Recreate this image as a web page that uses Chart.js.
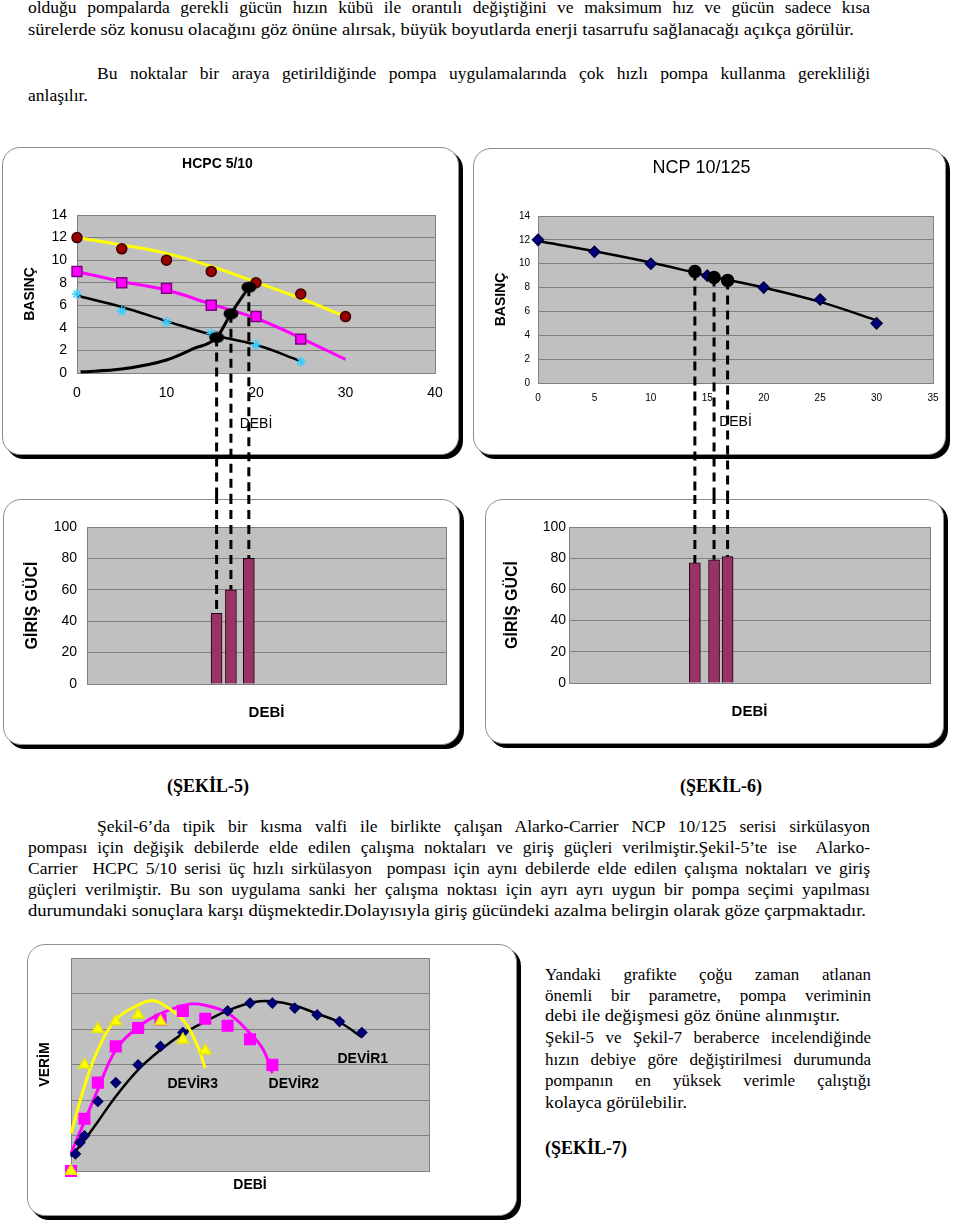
<!DOCTYPE html>
<html lang="tr">
<head>
<meta charset="utf-8">
<title>Pompa grafikleri – Şekil 5, 6, 7</title>
<script src="https://cdn.jsdelivr.net/npm/chart.js@4.4.1/dist/chart.umd.min.js"></script>
<style>
  html, body { margin: 0; padding: 0; background: #fff; }
  body { position: relative; width: 960px; height: 1223px; overflow: hidden; }
  .frame { position: absolute; background: #fff; border: 1px solid #8c8c8c; border-radius: 18px; box-shadow: 4px 4px 0 #000; z-index: 0; }
  canvas { position: absolute; z-index: 1; }
  .ln { position: absolute; white-space: nowrap; font-family: 'Liberation Serif', 'Times New Roman', serif; font-size: 17.5px; line-height: 20px; color: #000; transform-origin: 0 0; z-index: 2; }
  .ln.r { font-size: 17px; }
  .ln.fig { font-weight: bold; font-size: 18px; line-height: 22px; }
</style>
</head>
<body>

<!-- Metin: üst paragraflar -->
<div class="ln" style="left:28px;top:-3px" data-w="842" data-j="1">olduğu pompalarda gerekli gücün hızın kübü ile orantılı değiştiğini ve maksimum hız ve gücün sadece kısa</div>
<div class="ln" style="left:28px;top:19px" data-w="826">sürelerde söz konusu olacağını göz önüne alırsak, büyük boyutlarda enerji tasarrufu sağlanacağı açıkça görülür.</div>
<div class="ln" style="left:97px;top:63px" data-w="773" data-j="1">Bu noktalar bir araya getirildiğinde pompa uygulamalarında çok hızlı pompa kullanma gerekliliği</div>
<div class="ln" style="left:28px;top:85px">anlaşılır.</div>

<!-- Grafik çerçeveleri -->
<div class="frame" style="left:2px;top:147px;width:455px;height:306px"></div>
<div class="frame" style="left:473px;top:148px;width:471px;height:305px"></div>
<div class="frame" style="left:3px;top:499px;width:455px;height:244px"></div>
<div class="frame" style="left:485px;top:499px;width:457px;height:243px"></div>
<div class="frame" style="left:27px;top:944px;width:488px;height:270px"></div>

<canvas id="hcpcChart" width="462" height="348" style="left:0;top:147px"></canvas>
<canvas id="ncpChart" width="480" height="348" style="left:470px;top:147px"></canvas>
<canvas id="hcpcPowerChart" width="465" height="255" style="left:0;top:495px"></canvas>
<canvas id="ncpPowerChart" width="470" height="255" style="left:480px;top:495px"></canvas>
<canvas id="verimChart" width="495" height="275" style="left:27px;top:944px"></canvas>

<!-- Şekil başlıkları ve orta paragraf -->
<div class="ln fig" style="left:167px;top:775px">(ŞEKİL-5)</div>
<div class="ln fig" style="left:680px;top:775px">(ŞEKİL-6)</div>

<div class="ln" style="left:97px;top:816px" data-w="773" data-j="1">Şekil-6’da tipik bir kısma valfi ile birlikte çalışan Alarko-Carrier NCP 10/125 serisi sirkülasyon</div>
<div class="ln" style="left:28px;top:837px" data-w="842" data-j="1">pompası için değişik debilerde elde edilen çalışma noktaları ve giriş güçleri verilmiştir.Şekil-5’te ise&nbsp; Alarko-</div>
<div class="ln" style="left:28px;top:858px" data-w="842" data-j="1">Carrier&nbsp; HCPC 5/10 serisi üç hızlı sirkülasyon&nbsp; pompası için aynı debilerde elde edilen çalışma noktaları ve giriş</div>
<div class="ln" style="left:28px;top:879px" data-w="842" data-j="1">güçleri verilmiştir. Bu son uygulama sanki her çalışma noktası için ayrı ayrı uygun bir pompa seçimi yapılması</div>
<div class="ln" style="left:28px;top:900px" data-w="838">durumundaki sonuçlara karşı düşmektedir.Dolayısıyla giriş gücündeki azalma belirgin olarak göze çarpmaktadır.</div>

<!-- Sağ paragraf -->
<div class="ln r" style="left:545px;top:965px" data-w="326" data-j="1">Yandaki grafikte çoğu zaman atlanan</div>
<div class="ln r" style="left:545px;top:986px" data-w="326" data-j="1">önemli bir parametre, pompa veriminin</div>
<div class="ln r" style="left:545px;top:1006px" data-w="295">debi ile değişmesi göz önüne alınmıştır.</div>
<div class="ln r" style="left:545px;top:1028px" data-w="326" data-j="1">Şekil-5 ve Şekil-7 beraberce incelendiğinde</div>
<div class="ln r" style="left:545px;top:1050px" data-w="326" data-j="1">hızın debiye göre değiştirilmesi durumunda</div>
<div class="ln r" style="left:545px;top:1071px" data-w="326" data-j="1">pompanın en yüksek verimle çalıştığı</div>
<div class="ln r" style="left:545px;top:1093px" data-w="142">kolayca görülebilir.</div>
<div class="ln fig" style="left:545px;top:1137px">(ŞEKİL-7)</div>

<script>
// ---- Şekil-5: HCPC 5/10 (üç hızlı pompa) ----
const hcpcFlow = [0, 5, 10, 15, 20, 25, 30];
const hcpcSpeed3 = [12, 11, 10, 9, 8, 7, 5];
const hcpcSpeed2 = [9, 8, 7.5, 6, 5, 3];
const hcpcSpeed1 = [7, 5.5, 4.5, 3.5, 2.5, 1];
const hcpcTrend3 = [12.0, 11.35, 10.6, 9.45, 8.05, 6.6, 5.0];
const hcpcTrend2 = [9.0, 8.1, 7.35, 6.1, 4.85, 3.1, 1.2];
const hcpcTrend1 = [6.85, 5.85, 4.6, 3.4, 2.5, 1.05];
const systemFlow = [0.4, 5, 10, 13, 15.6, 17.2, 19.2];
const systemHead = [0.1, 0.35, 1.15, 2.15, 3.15, 5.25, 7.6];
const hcpcOpFlow = [15.6, 17.2, 19.2];
const hcpcOpHead = [3.15, 5.25, 7.6];
const hcpcPower = [45, 60, 80];

// ---- Şekil-6: NCP 10/125 (kısma valfli) ----
const ncpFlow = [0, 5, 10, 15, 20, 25, 30];
const ncpHead = [12, 11, 10, 9, 8, 7, 5];
const ncpTrend = [11.9, 11.05, 10.1, 9.0, 8.0, 6.8, 5.25];
const ncpOpFlow = [13.9, 15.6, 16.8];
const ncpOpHead = [9.35, 8.85, 8.6];
const ncpPower = [77, 79, 81];

// ---- Şekil-7: verim - debi ----
const devir1Flow = [0.5, 1, 1.5, 3, 5, 7.5, 10, 12.5, 17.5, 20, 22.5, 25, 27.5, 30, 32.5];
const devir1Eff = [4.8, 8, 9.9, 19.6, 24.9, 29.9, 35.1, 39, 45.1, 47.3, 47.3, 45.9, 44, 42.1, 39];
const devir2Flow = [0, 1.5, 3, 5, 7.5, 10, 12.5, 15, 17.5, 20, 22.5];
const devir2Eff = [0, 14.7, 24.9, 35.1, 40.3, 42.6, 45.1, 42.9, 40.9, 37.1, 29.9];
const devir3Flow = [0, 1.5, 3, 5, 7.5, 10, 12.5, 15];
const devir3Eff = [0, 29.9, 40, 42.1, 44, 42.1, 37, 33.9];
const devir1CurveFlow = [0, 1.5, 3, 5, 7.5, 10, 12.5, 15, 17.5, 20.5, 22.5, 25, 27.5, 30, 32.5];
const devir1CurveEff = [4, 8.7, 13.9, 21, 28.5, 34.1, 38.7, 42.1, 45.2, 47.6, 47.8, 46.6, 44.3, 41.9, 37.7];
const devir2CurveFlow = [0, 1.5, 3, 5, 7.5, 10, 13.2, 15, 17.5, 20, 21.5, 22.5];
const devir2CurveEff = [5, 13.9, 22.9, 34.1, 40.5, 44.3, 47, 46.7, 44.5, 38.8, 34.1, 27.6];
const devir3CurveFlow = [0, 1.5, 3, 5, 7.5, 9, 10, 12.5, 14, 15];
const devir3CurveEff = [10.6, 23.8, 34.1, 42.6, 46.8, 48, 47.3, 42.6, 36, 29];

// ---- Eksen etiketleri ----
const basincTicks = [0, 2, 4, 6, 8, 10, 12, 14];
const hcpcDebiTicks = [0, 10, 20, 30, 40];
const ncpDebiTicks = [0, 5, 10, 15, 20, 25, 30, 35];
const gucTicks = [0, 20, 40, 60, 80, 100];
const verimGrid = [0, 10, 20, 30, 40, 50, 60];

const SANS = "'Liberation Sans', Arial, sans-serif";
Chart.defaults.font.family = SANS;
Chart.defaults.color = '#000';

/** Gri çizim alanı ve çerçevesi */
const plotBg = {
    id: 'plotBg',
    beforeDraw(chart) {
        const { ctx, chartArea: a } = chart;
        ctx.save();
        ctx.fillStyle = '#c0c0c0';
        ctx.fillRect(a.left, a.top, a.width, a.height);
        ctx.restore();
    },
    beforeDatasetsDraw(chart) {
        const { ctx, chartArea: a } = chart;
        ctx.save();
        ctx.strokeStyle = '#808080';
        ctx.lineWidth = 1;
        ctx.strokeRect(Math.round(a.left) + 0.5, Math.round(a.top) + 0.5, Math.round(a.width), Math.round(a.height));
        ctx.restore();
    }
};

/** Çalışma noktalarından güç çubuklarına inen kesik çizgiler */
const dropLines = {
    id: 'dropLines',
    beforeDatasetsDraw(chart, args, opts) {
        if (!opts.flows) return;
        const { ctx, scales: { x, y } } = chart;
        ctx.save();
        ctx.strokeStyle = '#000';
        ctx.lineWidth = 3;
        ctx.setLineDash([9, 6]);
        opts.flows.forEach((flow, i) => {
            const px = x.getPixelForValue(flow);
            const py = y.getPixelForValue(opts.values[i]);
            ctx.beginPath();
            if (opts.down) {
                ctx.moveTo(px, py);
                ctx.lineTo(px, chart.height);
            } else {
                ctx.moveTo(px, 0);
                ctx.lineTo(px, py);
            }
            ctx.stroke();
        });
        ctx.restore();
    }
};

/** Eğri adları (DEVİR1..3) */
const curveLabels = {
    id: 'curveLabels',
    afterDatasetsDraw(chart, args, opts) {
        if (!opts.items) return;
        const { ctx, scales: { x, y } } = chart;
        ctx.save();
        ctx.font = 'bold 14px ' + SANS;
        ctx.fillStyle = '#000';
        ctx.textAlign = 'center';
        ctx.textBaseline = 'middle';
        opts.items.forEach(it => ctx.fillText(it.text, x.getPixelForValue(it.x), y.getPixelForValue(it.y)));
        ctx.restore();
    }
};

Chart.register(plotBg, dropLines, curveLabels);

function pts(xs, ys) {
    return ys.map((y, i) => ({ x: xs[i], y: y }));
}

function curve(xs, ys, color, width, order, monotone) {
    return { data: pts(xs, ys), showLine: true, borderColor: color, borderWidth: width,
             pointRadius: 0, tension: 0.4, cubicInterpolationMode: monotone ? 'monotone' : 'default',
             clip: false, order: order };
}

function marks(xs, ys, style, fill, stroke, radius, order) {
    return { data: pts(xs, ys), showLine: false, pointStyle: style, pointRadius: radius,
             pointBackgroundColor: fill, pointBorderColor: stroke, pointBorderWidth: 1.5,
             clip: false, order: order };
}

function font(size, weight) {
    return { family: SANS, size: size, weight: weight || 'normal' };
}

const fixWidth = w => s => { s.width = w; };
const fixHeight = h => s => { s.height = h; };
const useTicks = values => s => { s.ticks = values.map(v => ({ value: v })); };

// Siyah elips işaretçi (çalışma noktası)
function makeEllipse(w, h) {
    const c = document.createElement('canvas');
    c.width = w;
    c.height = h;
    const g = c.getContext('2d');
    g.fillStyle = '#000';
    g.beginPath();
    g.ellipse(w / 2, h / 2, w / 2 - 0.5, h / 2 - 0.5, 0, 0, Math.PI * 2);
    g.fill();
    return c;
}

const baseOptions = {
    responsive: false,
    animation: false,
    devicePixelRatio: 1,
    events: []
};

// ---- Şekil-5 üst: HCPC 5/10 ----
new Chart(document.getElementById('hcpcChart'), {
    type: 'scatter',
    data: {
        datasets: [
            marks(hcpcOpFlow, hcpcOpHead, makeEllipse(16, 12), '#000', '#000', 8, 1),
            curve(systemFlow, systemHead, '#000', 3, 2, true),
            marks(hcpcFlow, hcpcSpeed3, 'circle', '#990000', '#3a0000', 5, 3),
            marks(hcpcFlow, hcpcSpeed2, 'rect', '#ff00ff', '#800080', 7, 4),
            marks(hcpcFlow, hcpcSpeed1, 'star', '#33ccff', '#33ccff', 5, 5),
            curve(hcpcFlow, hcpcTrend3, '#ffff00', 3, 6),
            curve(hcpcFlow, hcpcTrend2, '#ff00ff', 3, 7),
            curve(hcpcFlow, hcpcTrend1, '#000', 2.5, 8)
        ]
    },
    options: Object.assign({}, baseOptions, {
        layout: { padding: { left: 0, right: 27, top: 0, bottom: 0 } },
        plugins: {
            legend: { display: false },
            tooltip: { enabled: false },
            title: { display: true, text: 'HCPC 5/10', color: '#000', font: font(14, 'bold'),
                     padding: { top: 8.6, bottom: 42.6 } },
            dropLines: { flows: hcpcOpFlow, values: hcpcOpHead, down: true }
        },
        scales: {
            x: {
                type: 'linear', min: 0, max: 40,
                afterBuildTicks: useTicks(hcpcDebiTicks),
                afterFit: fixHeight(122),
                ticks: { font: font(14), padding: 12, color: '#000' },
                grid: { display: false, drawTicks: false },
                border: { display: false },
                title: { display: true, text: 'DEBİ', color: '#000', font: font(14), padding: { top: 0, bottom: 62.6 } }
            },
            y: {
                min: 0, max: 14,
                afterBuildTicks: useTicks(basincTicks),
                afterFit: fixWidth(77),
                ticks: { font: font(14), padding: 10, color: '#000' },
                grid: { color: '#808080', drawTicks: false },
                border: { display: false },
                title: { display: true, text: 'BASINÇ', color: '#000', font: font(14, 'bold'), padding: { top: 21.6, bottom: 0 } }
            }
        }
    })
});

// ---- Şekil-6 üst: NCP 10/125 ----
new Chart(document.getElementById('ncpChart'), {
    type: 'scatter',
    data: {
        datasets: [
            marks(ncpOpFlow, ncpOpHead, 'circle', '#000', '#000', 6, 1),
            marks(ncpFlow, ncpHead, 'rectRot', '#000080', '#000040', 5.5, 2),
            curve(ncpFlow, ncpTrend, '#000', 2.5, 3)
        ]
    },
    options: Object.assign({}, baseOptions, {
        layout: { padding: { left: 0, right: 17, top: 0, bottom: 0 } },
        plugins: {
            legend: { display: false },
            tooltip: { enabled: false },
            title: { display: true, text: 'NCP 10/125', color: '#000', font: font(18),
                     padding: { top: 10.2, bottom: 37.2 } },
            dropLines: { flows: ncpOpFlow, values: ncpOpHead, down: true }
        },
        scales: {
            x: {
                type: 'linear', min: 0, max: 35,
                afterBuildTicks: useTicks(ncpDebiTicks),
                afterFit: fixHeight(112),
                ticks: { font: font(10), padding: 9.5, color: '#000' },
                grid: { display: false, drawTicks: false },
                border: { display: false },
                title: { display: true, text: 'DEBİ', color: '#000', font: font(14), padding: { top: 0, bottom: 64.6 } }
            },
            y: {
                min: 0, max: 14,
                afterBuildTicks: useTicks(basincTicks),
                afterFit: fixWidth(68),
                ticks: { font: font(10), padding: 8, color: '#000' },
                grid: { color: '#808080', drawTicks: false },
                border: { display: false },
                title: { display: true, text: 'BASINÇ', color: '#000', font: font(14, 'bold'), padding: { top: 22.6, bottom: 0 } }
            }
        }
    })
});

/**
 * Giriş gücü çubuk grafiği
 * @param {string} id - canvas id
 * @param {Array} flows - çalışma noktası debileri
 * @param {Array} power - giriş güçleri
 * @param {Object} geo - eksen ayarları
 */
function powerChart(id, flows, power, geo) {
    return new Chart(document.getElementById(id), {
        type: 'bar',
        data: {
            datasets: [{
                data: pts(flows, power),
                backgroundColor: '#993366',
                borderColor: '#1a0010',
                borderWidth: 1,
                barThickness: 11
            }]
        },
        options: Object.assign({}, baseOptions, {
            layout: { padding: { left: 0, right: geo.right, top: 32, bottom: 0 } },
            plugins: {
                legend: { display: false },
                tooltip: { enabled: false },
                dropLines: { flows: flows, values: power, down: false }
            },
            scales: {
                x: {
                    type: 'linear', min: geo.min, max: geo.max, offset: false,
                    afterFit: fixHeight(geo.height),
                    ticks: { display: false },
                    grid: { display: false, drawTicks: false },
                    border: { display: false },
                    title: { display: true, text: 'DEBİ', color: '#000', font: font(15, 'bold'), padding: { top: 0, bottom: geo.titleBottom } }
                },
                y: {
                    min: 0, max: 100,
                    afterBuildTicks: useTicks(gucTicks),
                    afterFit: fixWidth(geo.width),
                    ticks: { font: font(14), padding: geo.tickPad, color: '#000' },
                    grid: { color: '#808080', drawTicks: false },
                    border: { display: false },
                    title: { display: true, text: 'GİRİŞ GÜCİ', color: '#000', font: font(16, 'bold'), padding: { top: 23.4, bottom: 0 } }
                }
            }
        })
    });
}

powerChart('hcpcPowerChart', hcpcOpFlow, hcpcPower,
    { min: 1.12, max: 41.23, width: 87, right: 19, height: 66, titleBottom: 28, tickPad: 10 });
powerChart('ncpPowerChart', ncpOpFlow, ncpPower,
    { min: 2.75, max: 34.73, width: 89, right: 20, height: 67, titleBottom: 29, tickPad: 3 });

// ---- Şekil-7: verim ----
new Chart(document.getElementById('verimChart'), {
    type: 'scatter',
    data: {
        datasets: [
            marks(devir3Flow, devir3Eff, 'triangle', '#ffff00', '#e6e600', 6.5, 1),
            marks(devir2Flow, devir2Eff, 'rect', '#ff00ff', '#ff00ff', 7.5, 2),
            marks(devir1Flow, devir1Eff, 'rectRot', '#000080', '#000060', 4.8, 3),
            curve(devir3CurveFlow, devir3CurveEff, '#ffff00', 3, 4),
            curve(devir2CurveFlow, devir2CurveEff, '#ff00ff', 3, 5),
            curve(devir1CurveFlow, devir1CurveEff, '#000', 2.5, 6)
        ]
    },
    options: Object.assign({}, baseOptions, {
        layout: { padding: { left: 0, right: 93, top: 14, bottom: 0 } },
        plugins: {
            legend: { display: false },
            tooltip: { enabled: false },
            curveLabels: {
                items: [
                    { text: 'DEVİR1', x: 32.6, y: 31.5 },
                    { text: 'DEVİR2', x: 24.9, y: 24.5 },
                    { text: 'DEVİR3', x: 13.6, y: 24.5 }
                ]
            }
        },
        scales: {
            x: {
                type: 'linear', min: 0, max: 40,
                afterFit: fixHeight(48),
                ticks: { display: false },
                grid: { display: false, drawTicks: false },
                border: { display: false },
                title: { display: true, text: 'DEBİ', color: '#000', font: font(14, 'bold'), padding: { top: 0, bottom: 25.6 } }
            },
            y: {
                min: 0, max: 60,
                afterBuildTicks: useTicks(verimGrid),
                afterFit: fixWidth(44),
                ticks: { display: false },
                grid: { color: '#808080', drawTicks: false },
                border: { display: false },
                title: { display: true, text: 'VERİM', color: '#000', font: font(14, 'bold'), padding: { top: 9.6, bottom: 0 } }
            }
        }
    })
});

/**
 * Metin satırlarını taranmış sayfadaki genişliklere oturt
 */
function fitLines() {
    document.querySelectorAll('.ln[data-w]').forEach(el => {
        const target = parseFloat(el.dataset.w);
        const natural = el.getBoundingClientRect().width;
        const gaps = (el.textContent.match(/[ \u00a0]/g) || []).length;
        if (el.dataset.j && natural < target && gaps) {
            el.style.wordSpacing = ((target - natural) / gaps) + 'px';
        } else {
            el.style.transform = 'scaleX(' + (target / natural) + ')';
        }
    });
}

fitLines();
</script>
</body>
</html>
